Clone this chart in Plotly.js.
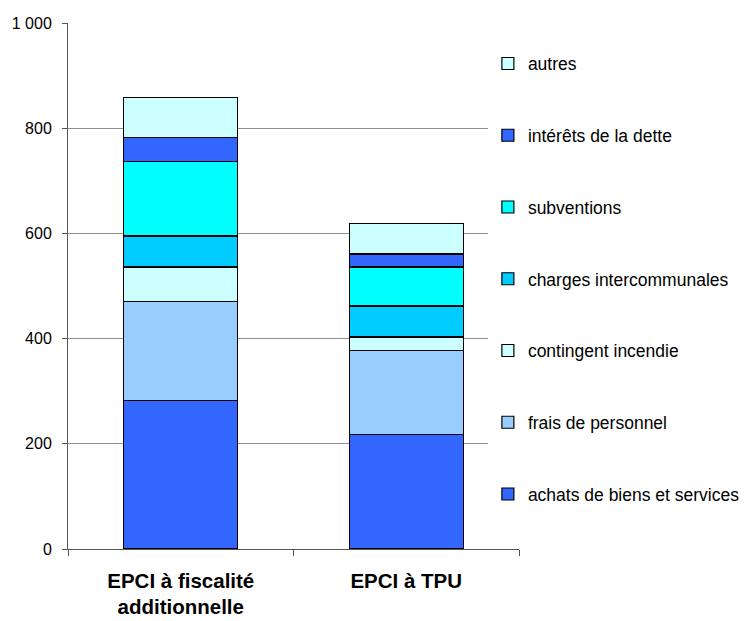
<!DOCTYPE html>
<html>
<head>
<meta charset="utf-8">
<script src="https://cdn.plot.ly/plotly-3.0.1.min.js"></script>
<style>html,body{margin:0;padding:0;background:#fff;}#chart{width:744px;height:621px;}</style>
</head>
<body>
<div id="chart"></div>
<script>
const categories = ["EPCI à fiscalité<br>additionnelle", "EPCI à TPU"];
const seriesNames = ["achats de biens et services", "frais de personnel", "contingent incendie", "charges intercommunales", "subventions", "intérêts de la dette", "autres"];
const achats = [283, 217];
const frais = [188, 161];
const contingent = [65, 25];
const charges = [59, 59];
const subventions = [142, 74];
const interets = [46, 25];
const autres = [75, 58];
const seriesValues = [achats, frais, contingent, charges, subventions, interets, autres];
const seriesColors = ["#3366FF", "#99CCFF", "#CCFFFF", "#00CCFF", "#00FFFF", "#3366FF", "#CCFFFF"];
const yTicks = [0, 200, 400, 600, 800, 1000];

const traces = seriesNames.map((name, i) => ({
  type: "bar",
  name: name,
  x: categories,
  y: seriesValues[i],
  legendgroup: "g" + i,
  legendrank: seriesNames.length - i,
  marker: {color: seriesColors[i], line: {color: "#000000", width: 1.2}},
  hoverinfo: "none"
}));

const layout = {
  width: 744, height: 621,
  margin: {l: 68, r: 225, t: 23, b: 72, autoexpand: false},
  paper_bgcolor: "#ffffff",
  plot_bgcolor: "#ffffff",
  barmode: "stack",
  bargap: 0.495,
  separators: ", ",
  font: {family: "Liberation Sans, Arial, sans-serif", size: 16, color: "#000000"},
  xaxis: {
    type: "category",
    showgrid: false,
    showline: true, linecolor: "#555555", linewidth: 1,
    ticks: "outside", tickson: "boundaries", ticklen: 6, tickcolor: "#555555",
    tickfont: {size: 20.5, color: "#000000", family: "Liberation Sans, Arial, sans-serif", weight: "bold"},
    ticklabelstandoff: 13,
    automargin: false,
    zeroline: false
  },
  yaxis: {
    range: [0, 1000],
    tickvals: yTicks,
    tickformat: ",d",
    showgrid: true, gridcolor: "#8f8f8f", gridwidth: 1,
    showline: true, linecolor: "#555555", linewidth: 1,
    ticks: "outside", ticklen: 5, tickcolor: "#555555",
    tickfont: {size: 16, color: "#000000"},
    ticklabelstandoff: 7,
    automargin: false,
    zeroline: false
  },
  showlegend: true,
  legend: {
    x: 0.931, xanchor: "left",
    y: 0.957, yanchor: "top",
    bgcolor: "#ffffff",
    borderwidth: 0,
    traceorder: "grouped",
    tracegroupgap: 46,
    font: {size: 17.5, color: "#000000"},
    itemclick: false
  }
};

Plotly.newPlot("chart", traces, layout, {displayModeBar: false, staticPlot: true});
</script>
</body>
</html>
